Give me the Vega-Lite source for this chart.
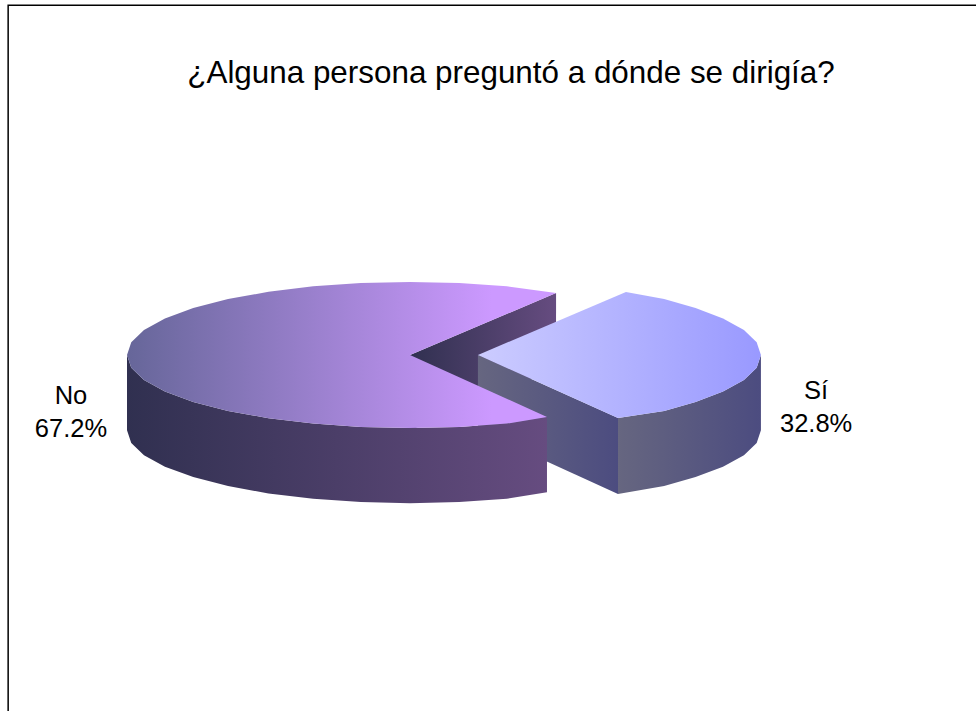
{
"$schema":"https://vega.github.io/schema/vega-lite/v6.json",
"width":976,"height":711,"padding":0,"autosize":{"type":"none"},
"background":"white",
"config":{"view":{"stroke":null},"font":"Liberation Sans"},
"title":{"text":"¿Alguna persona preguntó a dónde se dirigía?","font":"Liberation Sans","fontSize":31.4,"fontWeight":"normal","color":"#000000","anchor":"middle","dx":23,"dy":93},
"datasets":{
"frame":[{"i":0,"x":-1.42,"y":-4.877},{"i":1,"x":-1.42,"y":4.79},{"i":2,"x":2.0,"y":4.79}],
"noCut":[{"i":0,"x":0,"y":0},{"i":1,"x":0.516,"y":0.849},{"i":2,"x":0.516,"y":-0.18},{"i":3,"x":0,"y":-1.03}],
"siSide":[{"i":0,"x":0.735,"y":-0.863},{"i":1,"x":0.898,"y":-0.766},{"i":2,"x":1.009,"y":-0.643},{"i":3,"x":1.106,"y":-0.5},{"i":4,"x":1.18,"y":-0.342},{"i":5,"x":1.225,"y":-0.174},{"i":6,"x":1.24,"y":0},{"i":7,"x":1.24,"y":-1.03},{"i":8,"x":1.225,"y":-1.204},{"i":9,"x":1.18,"y":-1.372},{"i":10,"x":1.106,"y":-1.53},{"i":11,"x":1.009,"y":-1.673},{"i":12,"x":0.898,"y":-1.796},{"i":13,"x":0.735,"y":-1.904}],
"siFace":[{"i":0,"x":0.24,"y":0},{"i":1,"x":0.735,"y":-0.863},{"i":2,"x":0.735,"y":-1.904},{"i":3,"x":0.24,"y":-1.03}],
"siTop":[{"i":0,"x":0.24,"y":0},{"i":1,"x":0.735,"y":-0.863},{"i":2,"x":0.898,"y":-0.766},{"i":3,"x":1.009,"y":-0.643},{"i":4,"x":1.106,"y":-0.5},{"i":5,"x":1.18,"y":-0.342},{"i":6,"x":1.225,"y":-0.174},{"i":7,"x":1.24,"y":0},{"i":8,"x":1.225,"y":0.174},{"i":9,"x":1.18,"y":0.342},{"i":10,"x":1.106,"y":0.5},{"i":11,"x":1.009,"y":0.643},{"i":12,"x":0.898,"y":0.766},{"i":13,"x":0.763,"y":0.863}],
"noSide":[{"i":0,"x":-1,"y":0},{"i":1,"x":-0.985,"y":-0.174},{"i":2,"x":-0.94,"y":-0.342},{"i":3,"x":-0.866,"y":-0.5},{"i":4,"x":-0.766,"y":-0.643},{"i":5,"x":-0.643,"y":-0.766},{"i":6,"x":-0.5,"y":-0.866},{"i":7,"x":-0.342,"y":-0.94},{"i":8,"x":-0.174,"y":-0.985},{"i":9,"x":0,"y":-1},{"i":10,"x":0.174,"y":-0.985},{"i":11,"x":0.342,"y":-0.94},{"i":12,"x":0.484,"y":-0.849},{"i":13,"x":0.484,"y":-1.879},{"i":14,"x":0.342,"y":-1.97},{"i":15,"x":0.174,"y":-2.015},{"i":16,"x":0,"y":-2.03},{"i":17,"x":-0.174,"y":-2.015},{"i":18,"x":-0.342,"y":-1.97},{"i":19,"x":-0.5,"y":-1.896},{"i":20,"x":-0.643,"y":-1.796},{"i":21,"x":-0.766,"y":-1.673},{"i":22,"x":-0.866,"y":-1.53},{"i":23,"x":-0.94,"y":-1.372},{"i":24,"x":-0.985,"y":-1.204},{"i":25,"x":-1,"y":-1.03}],
"noTop":[{"i":0,"x":0,"y":0},{"i":1,"x":0.516,"y":0.849},{"i":2,"x":0.342,"y":0.94},{"i":3,"x":0.174,"y":0.985},{"i":4,"x":0,"y":1},{"i":5,"x":-0.174,"y":0.985},{"i":6,"x":-0.342,"y":0.94},{"i":7,"x":-0.5,"y":0.866},{"i":8,"x":-0.643,"y":0.766},{"i":9,"x":-0.766,"y":0.643},{"i":10,"x":-0.866,"y":0.5},{"i":11,"x":-0.94,"y":0.342},{"i":12,"x":-0.985,"y":0.174},{"i":13,"x":-1,"y":0},{"i":14,"x":-0.985,"y":-0.174},{"i":15,"x":-0.94,"y":-0.342},{"i":16,"x":-0.866,"y":-0.5},{"i":17,"x":-0.766,"y":-0.643},{"i":18,"x":-0.643,"y":-0.766},{"i":19,"x":-0.5,"y":-0.866},{"i":20,"x":-0.342,"y":-0.94},{"i":21,"x":-0.174,"y":-0.985},{"i":22,"x":0,"y":-1},{"i":23,"x":0.174,"y":-0.985},{"i":24,"x":0.342,"y":-0.94},{"i":25,"x":0.484,"y":-0.849}],
"labels":[{"label":["No","67.2%"],"x":-1.198,"y":-0.56},{"label":["Sí","32.8%"],"x":1.435,"y":-0.49}]
},
"encoding":{
"x":{"field":"x","type":"quantitative","axis":null,"scale":{"domain":[-1.4488,2.0],"nice":false,"zero":false}},
"y":{"field":"y","type":"quantitative","axis":null,"scale":{"domain":[-4.877,4.863],"nice":false,"zero":false}},
"order":{"field":"i","type":"quantitative"}
},
"layer":[
{"data":{"name":"noCut"},"mark":{"type":"line","strokeWidth":0,"fill":{"gradient":"linear","x1":0,"y1":0,"x2":1,"y2":0,"stops":[{"offset":0,"color":"#303050"},{"offset":1,"color":"#664c80"}]}}},
{"data":{"name":"siSide"},"mark":{"type":"line","strokeWidth":0,"fill":{"gradient":"linear","x1":0,"y1":0,"x2":1,"y2":0,"stops":[{"offset":0,"color":"#666680"},{"offset":1,"color":"#4c4c80"}]}}},
{"data":{"name":"siFace"},"mark":{"type":"line","strokeWidth":0,"fill":{"gradient":"linear","x1":0,"y1":0,"x2":1,"y2":0,"stops":[{"offset":0,"color":"#666680"},{"offset":1,"color":"#4c4c80"}]}}},
{"data":{"name":"siTop"},"mark":{"type":"line","strokeWidth":0,"fill":{"gradient":"linear","x1":0,"y1":0,"x2":1,"y2":0,"stops":[{"offset":0,"color":"#ccccff"},{"offset":1,"color":"#9999ff"}]}}},
{"data":{"name":"noSide"},"mark":{"type":"line","strokeWidth":0,"fill":{"gradient":"linear","x1":0,"y1":0,"x2":1,"y2":0,"stops":[{"offset":0,"color":"#303050"},{"offset":1,"color":"#664c80"}]}}},
{"data":{"name":"noTop"},"mark":{"type":"line","strokeWidth":0,"fill":{"gradient":"linear","x1":0,"y1":0,"x2":1,"y2":0,"stops":[{"offset":0,"color":"#666699"},{"offset":0.85,"color":"#cc99ff"},{"offset":1,"color":"#cc99ff"}]}}},
{"data":{"name":"frame"},"mark":{"type":"line","color":"#000000","strokeWidth":1.5}},
{"data":{"name":"labels"},"mark":{"type":"text","font":"Liberation Sans","fontSize":25.5,"lineHeight":33,"align":"center","baseline":"middle","color":"#000000"},"encoding":{"text":{"field":"label"},"order":null}}
]
}
